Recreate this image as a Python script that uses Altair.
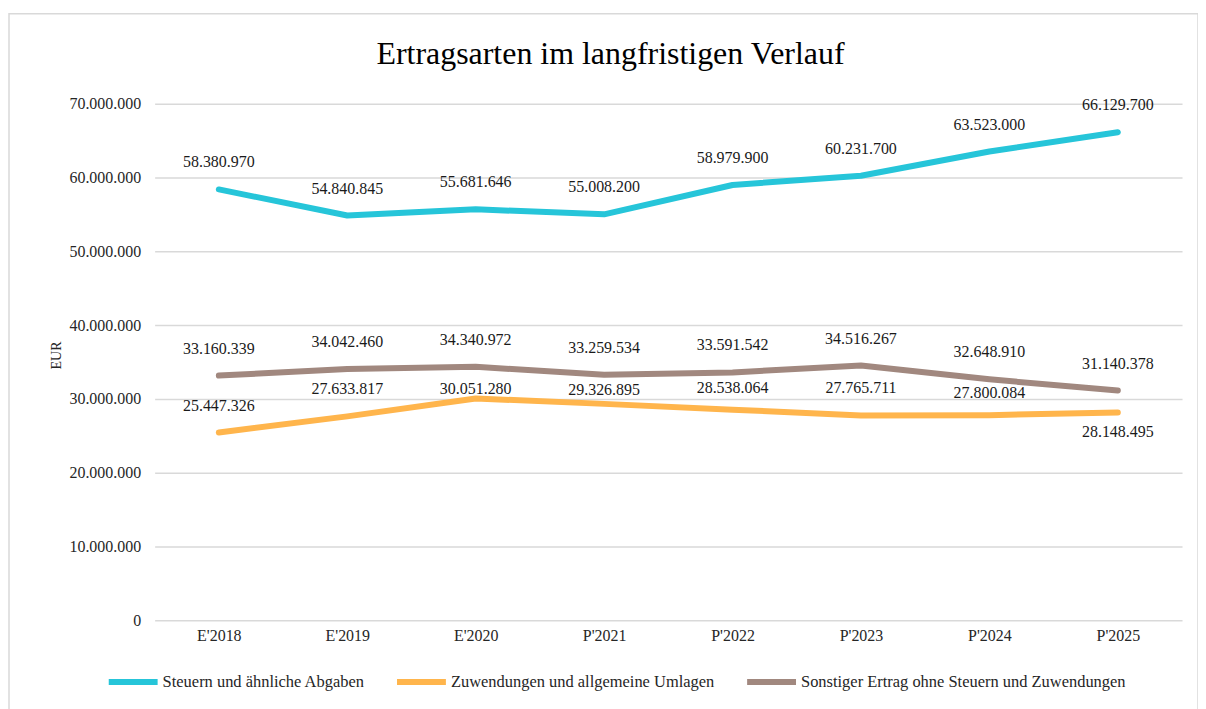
import altair as alt
import pandas as pd

categories = ["E'2018", "E'2019", "E'2020", "P'2021", "P'2022", "P'2023", "P'2024", "P'2025"]
series_names = [
    "Steuern und ähnliche Abgaben",
    "Zuwendungen und allgemeine Umlagen",
    "Sonstiger Ertrag ohne Steuern und Zuwendungen",
]
steuern = [58380970, 54840845, 55681646, 55008200, 58979900, 60231700, 63523000, 66129700]
zuwendungen = [25447326, 27633817, 30051280, 29326895, 28538064, 27765711, 27800084, 28148495]
sonstiger = [33160339, 34042460, 34340972, 33259534, 33591542, 34516267, 32648910, 31140378]

colors = ["#26C5D9", "#FFB54C", "#A1887F"]

# label offsets in pixels (style only)
steuern_dy = [-27] * 8
zuwendungen_dy = [-27, -27, -10, -14, -22, -27, -22, 19]
sonstiger_dy = [-27] * 8

rows = []
for name, vals, dys in zip(series_names, [steuern, zuwendungen, sonstiger],
                           [steuern_dy, zuwendungen_dy, sonstiger_dy]):
    for c, v, d in zip(categories, vals, dys):
        rows.append({"Jahr": c, "Serie": name, "Wert": v,
                     "Label": f"{v:,}".replace(",", "."), "dy": d})
df = pd.DataFrame(rows)

FONT = "Liberation Serif"

x_enc = alt.X("Jahr:N", sort=categories, title=None,
              scale=alt.Scale(padding=0.5),
              axis=alt.Axis(labelAngle=0, labelFont=FONT, labelFontSize=16,
                            labelColor="#262626", ticks=False, domain=False,
                            labelPadding=7, grid=False))
y_enc = alt.Y("Wert:Q", title="EUR",
              scale=alt.Scale(domain=[0, 70000000], nice=False),
              axis=alt.Axis(values=[0, 10000000, 20000000, 30000000, 40000000,
                                    50000000, 60000000, 70000000],
                            labelExpr="replace(format(datum.value, ','), /,/g, '.')",
                            labelFont=FONT, labelFontSize=16, labelColor="#262626",
                            ticks=False, domain=False, labelPadding=14,
                            gridColor="#d9d9d9", gridWidth=1.5,
                            titleFont=FONT, titleFontSize=14, titleFontWeight="normal",
                            titleColor="#262626", titleX=-98, titleY=252,
                            titleAngle=-90, titleBaseline="middle", titleAlign="center"))
color_enc = alt.Color("Serie:N",
                      scale=alt.Scale(domain=series_names, range=colors),
                      legend=alt.Legend(title=None, orient="none", legendX=-49, legendY=552,
                                        direction="horizontal", symbolType="stroke",
                                        symbolSize=2401, symbolStrokeWidth=6,
                                        labelFont=FONT, labelFontSize=16.5,
                                        labelColor="#262626", columnPadding=20,
                                        labelOffset=2, labelLimit=500))

lines = alt.Chart(df).mark_line(strokeWidth=6, strokeCap="round", strokeJoin="round").encode(
    x=x_enc, y=y_enc, color=color_enc,
    order=alt.Order("Jahr:N"),
)

label_layers = []
for d in sorted(df["dy"].unique()):
    label_layers.append(
        alt.Chart(df).transform_filter(alt.datum.dy == int(d)).mark_text(
            font=FONT, fontSize=16, color="#1a1a1a",
            baseline="middle", align="center", dy=int(d)).encode(
            x=alt.X("Jahr:N", sort=categories),
            y=alt.Y("Wert:Q"),
            text="Label:N",
        )
    )

frame = alt.Chart(pd.DataFrame({"a": [0]})).mark_rect(
    filled=False, stroke="#d9d9d9", strokeWidth=1.5).encode(
    x=alt.value(-146), x2=alt.value(1046), y=alt.value(-90), y2=alt.value(660))

chart = alt.layer(frame, lines, *label_layers).properties(
    width=1030, height=518,
    title=alt.TitleParams("Ertragsarten im langfristigen Verlauf", font=FONT,
                          fontSize=32, fontWeight="normal", color="#000000",
                          anchor="middle", dx=-58, offset=-83, baseline="alphabetic"),
    padding={"left": 147, "top": 95, "right": 16, "bottom": 90},
    autosize=alt.AutoSizeParams(type="none"),
    view=alt.ViewBackground(strokeWidth=0, stroke="transparent"),
).configure_view(strokeWidth=0, stroke="transparent", strokeOpacity=0).configure_axisX(
    grid=False, domain=False).configure_axisY(domain=False).configure(background="white")

chart.save("out.html", embed_options={"renderer": "svg", "actions": False})
